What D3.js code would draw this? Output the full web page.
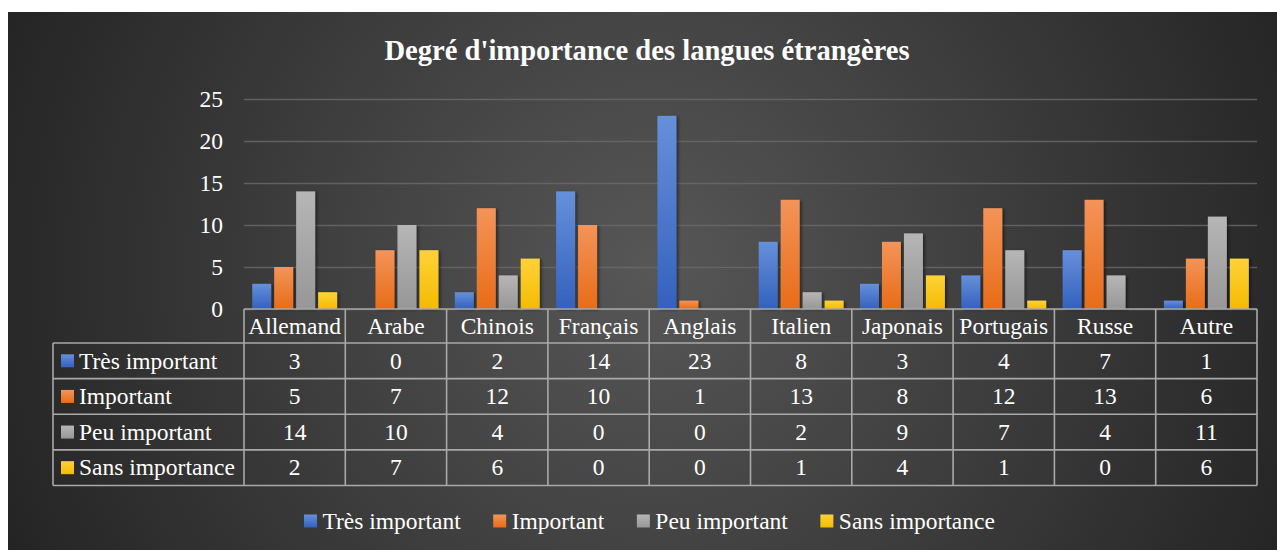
<!DOCTYPE html>
<html>
<head>
<meta charset="utf-8">
<script src="https://cdn.jsdelivr.net/npm/d3@7"></script>
<style>
  body { margin: 0; background: #fff; }
  svg { display: block; }
  svg text { font-family: 'Liberation Serif', 'Times New Roman', serif !important; }
</style>
</head>
<body>
<svg></svg>
<script>
let categories = ['Allemand', 'Arabe', 'Chinois', 'Français', 'Anglais', 'Italien', 'Japonais', 'Portugais', 'Russe', 'Autre']
let series = ['Très important', 'Important', 'Peu important', 'Sans importance']
let tresImportant = [3, 0, 2, 14, 23, 8, 3, 4, 7, 1]
let important = [5, 7, 12, 10, 1, 13, 8, 12, 13, 6]
let peuImportant = [14, 10, 4, 0, 0, 2, 9, 7, 4, 11]
let sansImportance = [2, 7, 6, 0, 0, 1, 4, 1, 0, 6]
let yTicks = [0, 5, 10, 15, 20, 25]

let seriesValues = [tresImportant, important, peuImportant, sansImportance]
let colorsTop = ['#6690da', '#f39459', '#b6b6b6', '#ffd23a']
let colorsBottom = ['#3361bd', '#e86c18', '#979797', '#f4bb00']

let width = 1277
let height = 550
let plotLeft = 244
let plotRight = 1257
let plotTop = 99
let plotBottom = 309
let tableLeft = 53
let rowsTop = 343
let rowsBottom = 485.5
let fontSize = '23.5px'
let serif = "'Liberation Serif', 'Times New Roman', serif"

let svg = d3.select('svg').attr('width', width).attr('height', height)
let defs = svg.append('defs')

let bg = defs.append('radialGradient')
  .attr('id', 'bg')
  .attr('gradientUnits', 'userSpaceOnUse')
  .attr('cx', 650).attr('cy', 270).attr('r', 700)
bg.append('stop').attr('offset', '0%').attr('stop-color', '#575757')
bg.append('stop').attr('offset', '100%').attr('stop-color', '#242424')

seriesValues.forEach((s, i) => {
  let g = defs.append('linearGradient')
    .attr('id', 'bar' + i)
    .attr('x1', 0).attr('y1', 0).attr('x2', 0).attr('y2', 1)
  g.append('stop').attr('offset', '0%').attr('stop-color', colorsTop[i])
  g.append('stop').attr('offset', '100%').attr('stop-color', colorsBottom[i])
})

let shadow = defs.append('filter').attr('id', 'shadow')
  .attr('x', '-30%').attr('y', '-10%').attr('width', '160%').attr('height', '130%')
shadow.append('feDropShadow')
  .attr('dx', 2).attr('dy', 1).attr('stdDeviation', 1.5)
  .attr('flood-color', '#000').attr('flood-opacity', 0.45)

svg.append('rect')
  .attr('x', 8).attr('y', 12)
  .attr('width', width - 8).attr('height', height - 12)
  .attr('fill', 'url(#bg)')

let xScale = d3.scaleBand().domain(categories).range([plotLeft, plotRight])
let innerScale = d3.scaleBand().domain(series)
  .range([8.2, xScale.bandwidth() - 8.2])
  .paddingInner(0.136)
let yScale = d3.scaleLinear().domain([0, 25]).range([plotBottom, plotTop])
let rowScale = d3.scaleBand().domain(series).range([rowsTop, rowsBottom])

// title
svg.append('text')
  .attr('x', 647)
  .attr('y', 60)
  .attr('text-anchor', 'middle')
  .attr('fill', '#fff')
  .style('font-family', serif)
  .style('font-size', '28.6px')
  .style('font-weight', 'bold')
  .text("Degré d'importance des langues étrangères")

// y axis with gridlines
let yAxis = d3.axisLeft(yScale)
  .tickValues(yTicks)
  .tickSize(-(plotRight - plotLeft))
  .tickPadding(21)

let yG = svg.append('g')
  .attr('transform', 'translate(' + plotLeft + ', 0)')
  .call(yAxis)
  .attr('font-family', null)
  .attr('font-size', null)
yG.select('.domain').remove()
yG.selectAll('line')
  .attr('stroke', '#6a6a6a')
  .attr('stroke-width', 1.5)
  .attr('stroke-opacity', 0.8)
yG.selectAll('text')
  .attr('fill', '#fff')
  .style('font-size', fontSize)
  .style('font-family', serif)

// bars
seriesValues.forEach((values, i) => {
  svg.append('g')
    .selectAll('rect')
    .data(values)
    .enter()
    .append('rect')
    .attr('x', (d, j) => xScale(categories[j]) + innerScale(series[i]))
    .attr('y', (d) => yScale(d))
    .attr('width', innerScale.bandwidth())
    .attr('height', (d) => plotBottom - yScale(d))
    .attr('fill', 'url(#bar' + i + ')')
    .attr('filter', (d) => d > 0 ? 'url(#shadow)' : null)
})

// data table
let table = svg.append('g')
  .style('font-family', serif)
  .style('font-size', fontSize)
let borderColor = '#a9a9a9'
let borderWidth = 1.6

// header cells
table.selectAll('.head')
  .data(categories)
  .enter()
  .append('text')
  .attr('x', (d) => xScale(d) + xScale.bandwidth() / 2)
  .attr('y', (plotBottom + rowsTop) / 2)
  .attr('dy', '0.33em')
  .attr('text-anchor', 'middle')
  .attr('fill', '#fff')
  .text((d) => d)

// horizontal lines
let hLines = [plotBottom].concat(series.map((s) => rowScale(s)), [rowsBottom])
hLines.forEach((y, k) => {
  table.append('line')
    .attr('x1', k === 0 ? plotLeft : tableLeft)
    .attr('x2', plotRight)
    .attr('y1', y).attr('y2', y)
    .attr('stroke', borderColor)
    .attr('stroke-width', borderWidth)
})

// vertical lines
let vLines = categories.map((c) => xScale(c)).concat([plotRight])
vLines.forEach((x) => {
  table.append('line')
    .attr('x1', x).attr('x2', x)
    .attr('y1', plotBottom).attr('y2', rowsBottom)
    .attr('stroke', borderColor)
    .attr('stroke-width', borderWidth)
})
table.append('line')
  .attr('x1', tableLeft).attr('x2', tableLeft)
  .attr('y1', rowsTop).attr('y2', rowsBottom)
  .attr('stroke', borderColor)
  .attr('stroke-width', borderWidth)

// row labels and values
series.forEach((s, i) => {
  let cy = rowScale(s) + rowScale.bandwidth() / 2
  table.append('rect')
    .attr('x', 61).attr('y', cy - 6.5)
    .attr('width', 13).attr('height', 13)
    .attr('fill', 'url(#bar' + i + ')')
  table.append('text')
    .attr('x', 79).attr('y', cy)
    .attr('dy', '0.33em')
    .attr('fill', '#fff')
    .text(s)
  table.append('g')
    .selectAll('text')
    .data(seriesValues[i])
    .enter()
    .append('text')
    .attr('x', (d, j) => xScale(categories[j]) + xScale.bandwidth() / 2)
    .attr('y', cy)
    .attr('dy', '0.33em')
    .attr('text-anchor', 'middle')
    .attr('fill', '#fff')
    .text((d) => d)
})

// legend
let legend = svg.append('g')
  .style('font-family', serif)
  .style('font-size', fontSize)
let legendX = 304
let legendY = 521
series.forEach((s, i) => {
  legend.append('rect')
    .attr('x', legendX).attr('y', legendY - 6.5)
    .attr('width', 13).attr('height', 13)
    .attr('fill', 'url(#bar' + i + ')')
  let t = legend.append('text')
    .attr('x', legendX + 18.5).attr('y', legendY)
    .attr('dy', '0.33em')
    .attr('fill', '#fff')
    .text(s)
  legendX = legendX + 18.5 + t.node().getComputedTextLength() + 32.5
})
</script>
</body>
</html>
